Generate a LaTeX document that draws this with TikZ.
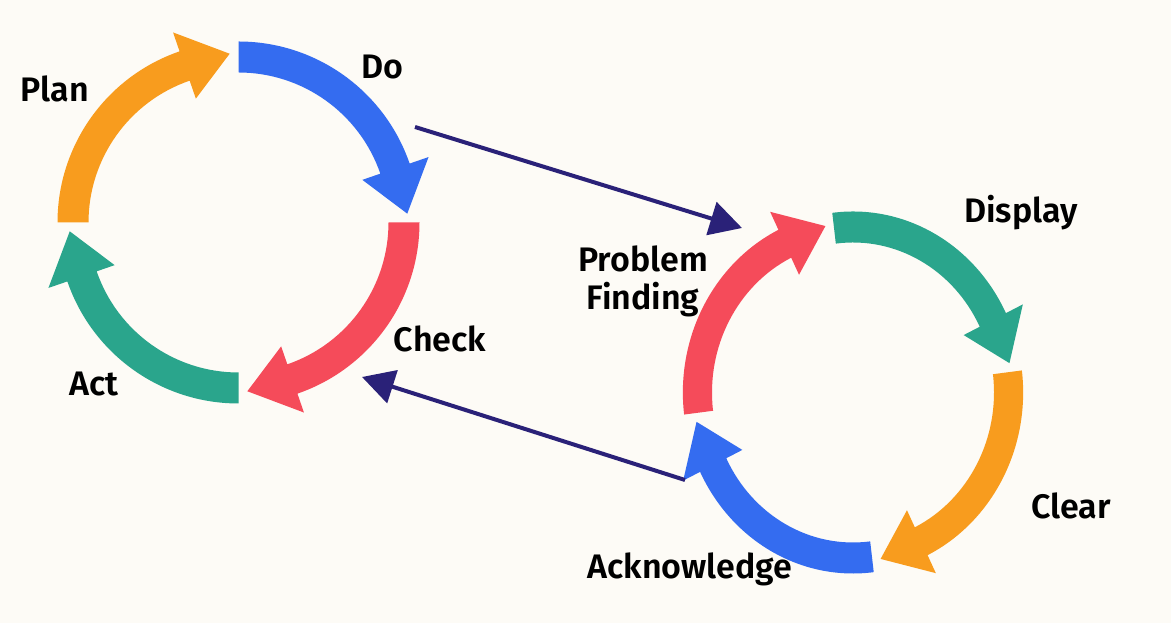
\documentclass[tikz,border=0pt]{standalone}
\usepackage{fontspec}
\setmainfont{Fira Sans}[BoldFont={Fira Sans SemiBold}]
\usetikzlibrary{arrows.meta}
\definecolor{bg}{HTML}{FDFBF6}
\definecolor{corange}{HTML}{F89C1E}
\definecolor{cblue}{HTML}{346CF0}
\definecolor{cred}{HTML}{F54B5A}
\definecolor{cteal}{HTML}{2AA58C}
\definecolor{cnavy}{HTML}{2A2178}
\def\rout{181pt}
\def\rin{150pt}
\def\hout{201pt}
\def\hin{131pt}
\def\tipr{169pt}
% #1 tail angle, #2 colour
\newcommand{\arcarr}[2]{%
  \fill[#2] (#1:\rout) arc[start angle=#1, delta angle=-71, radius=\rout]
    -- (#1-71:\hout) -- (#1-87:\tipr) -- (#1-71:\hin) -- (#1-71:\rin)
    arc[start angle=#1-71, delta angle=71, radius=\rin] -- cycle;}
\begin{document}
\begin{tikzpicture}[x=1pt,y=1pt,
  lbl/.style={font=\fontsize{34}{38}\selectfont\bfseries, text=black, inner sep=0pt, align=center},
  conn/.style={cnavy, line width=4pt, -{Triangle[length=32pt,width=34pt]}}]
\useasboundingbox (0,0) rectangle (1171,623);
\fill[bg] (0,0) rectangle (1171,623);
% left cycle
\begin{scope}[shift={(238.5,400.5)}]
  \arcarr{180}{corange}
  \arcarr{90}{cblue}
  \arcarr{0}{cred}
  \arcarr{-90}{cteal}
\end{scope}
% right cycle
\begin{scope}[shift={(853,230.5)}, xscale=0.94]
  \arcarr{187}{cred}
  \arcarr{97}{cteal}
  \arcarr{7}{corange}
  \arcarr{277}{cblue}
\end{scope}
% labels
\node[lbl] (plan) at (55,534) {Plan};
\node[lbl] (do) at (382,556) {Do};
\node[lbl] (check) at (440,284) {Check};
\node[lbl] (act) at (94,239) {Act};
\node[lbl] (pf) at (643,342) {Problem\\Finding};
\node[lbl] (display) at (1021,410) {Display};
\node[lbl] (clear) at (1071,117) {Clear};
\node[lbl] (ack) at (690,54) {Acknowledge};
% connectors
\coordinate (c1s) at (415,496);
\coordinate (c1e) at (742,395);
\coordinate (c2s) at (685,143);
\coordinate (c2e) at (362,246);
\draw[conn] (c1s) -- (c1e);
\draw[conn] (c2s) -- (c2e);
\end{tikzpicture}
\end{document}
